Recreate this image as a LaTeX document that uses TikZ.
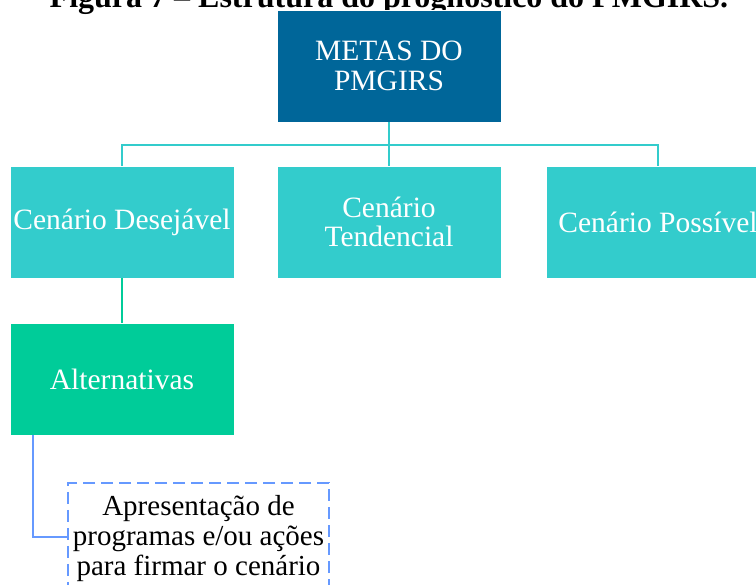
\documentclass[tikz,border=0pt]{standalone}
\usepackage{fontspec}
\setmainfont{Liberation Serif}
\usetikzlibrary{positioning}

\definecolor{metas}{RGB}{0,102,153}
\definecolor{cenario}{RGB}{51,204,204}
\definecolor{alterna}{RGB}{0,204,153}
\definecolor{acoes}{RGB}{102,153,255}

\tikzset{
    caixa/.style={minimum width=224pt, minimum height=112pt, inner sep=1pt,
        draw=white, line width=0.8pt,
        align=center, text=white, font=\fontsize{29.5}{29.5}\selectfont},
    ligacao/.style={draw=cenario, line width=2pt},
}

\begin{document}
\begin{tikzpicture}[x=1pt, y=-1pt]
    \useasboundingbox (0,0) rectangle (756,585);

    % titulo (cortado no topo)
    \node[font=\bfseries\fontsize{32}{32}\selectfont, anchor=base] (titulo) at (389,8)
        {Figura 7 -- Estrutura do prognóstico do PMGIRS.};

    \node[caixa, fill=metas] (metas) at (389,66) {METAS DO\\PMGIRS};

    \node[caixa, fill=cenario] (desejavel) at (122,222) {Cenário Desejável};
    \node[caixa, fill=cenario] (tendencial) at (389,222) {Cenário\\Tendencial};
    \node[caixa, fill=cenario] (possivel) at (658,222) {Cenário Possível};

    \node[caixa, fill=alterna] (alternativas) at (122,379) {Alternativas};

    % caixa tracejada (cortada embaixo)
    \node[draw=acoes, dash pattern=on 12pt off 6pt, line width=2pt,
        minimum width=261pt, anchor=north west,
        inner sep=0pt, align=center, text=black,
        font=\fontsize{29}{30}\selectfont] (programas) at (67,482)
        {\rule{0pt}{33pt}Apresentação de\\programas e/ou ações\\para firmar o cenário\rule[-24pt]{0pt}{0pt}};

    \coordinate (barra) at (389,145);
    \draw[ligacao] (metas.south) -- (barra);
    \draw[ligacao] (desejavel.north) |- (barra) -| (possivel.north);
    \draw[ligacao] (barra) -- (tendencial.north);
    \draw[draw=alterna, line width=2pt] (desejavel.south) -- (alternativas.north);
    \draw[draw=acoes, line width=2pt] ([xshift=-89pt]alternativas.south) |- (programas.west |- 0,537);
\end{tikzpicture}
\end{document}
